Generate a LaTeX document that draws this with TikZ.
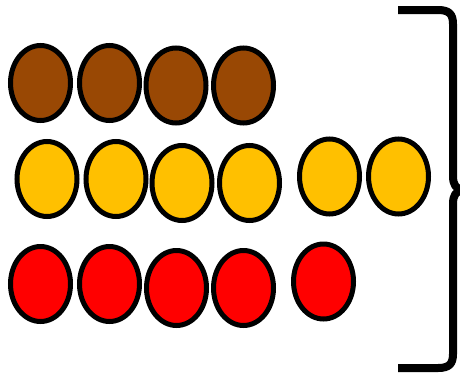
\documentclass[tikz,border=0pt]{standalone}
\usetikzlibrary{shapes.geometric}
\definecolor{brownball}{RGB}{153,72,4}
\definecolor{goldball}{RGB}{255,192,0}
\definecolor{redball}{RGB}{255,0,0}
\begin{document}
\begin{tikzpicture}[x=1pt,y=-1pt,
  ball/.style={ellipse,draw=black,line width=5pt,inner sep=0pt,minimum width=60pt,minimum height=75pt}]
\useasboundingbox (0,0) rectangle (460,378);

\node[ball,fill=brownball] (b1) at (40.5,83) {};
\node[ball,fill=brownball] (b2) at (109.5,83) {};
\node[ball,fill=brownball] (b3) at (176,85.5) {};
\node[ball,fill=brownball] (b4) at (243.5,85.5) {};

\node[ball,fill=goldball] (g1) at (47,179) {};
\node[ball,fill=goldball] (g2) at (116,179) {};
\node[ball,fill=goldball] (g3) at (182,183) {};
\node[ball,fill=goldball] (g4) at (249.5,183) {};
\node[ball,fill=goldball] (g5) at (329.5,176.5) {};
\node[ball,fill=goldball] (g6) at (398.5,176.5) {};

\node[ball,fill=redball] (r1) at (40.5,284) {};
\node[ball,fill=redball] (r2) at (109.5,284) {};
\node[ball,fill=redball] (r3) at (176.5,288) {};
\node[ball,fill=redball] (r4) at (243.5,288) {};
\node[ball,fill=redball] (r5) at (323.5,281.5) {};

\begin{scope}
\clip (0,0) rectangle (460,378);
\draw[line width=8pt,line join=round] (398,10) -- (438,10)
  .. controls (449,10) and (453,14) .. (453,24) -- (453,176)
  .. controls (453,185) and (456,189) .. (463,190)
  .. controls (456,191) and (453,195) .. (453,204) -- (453,354)
  .. controls (453,364) and (449,368) .. (438,368) -- (398,368);
\end{scope}

\end{tikzpicture}
\end{document}
